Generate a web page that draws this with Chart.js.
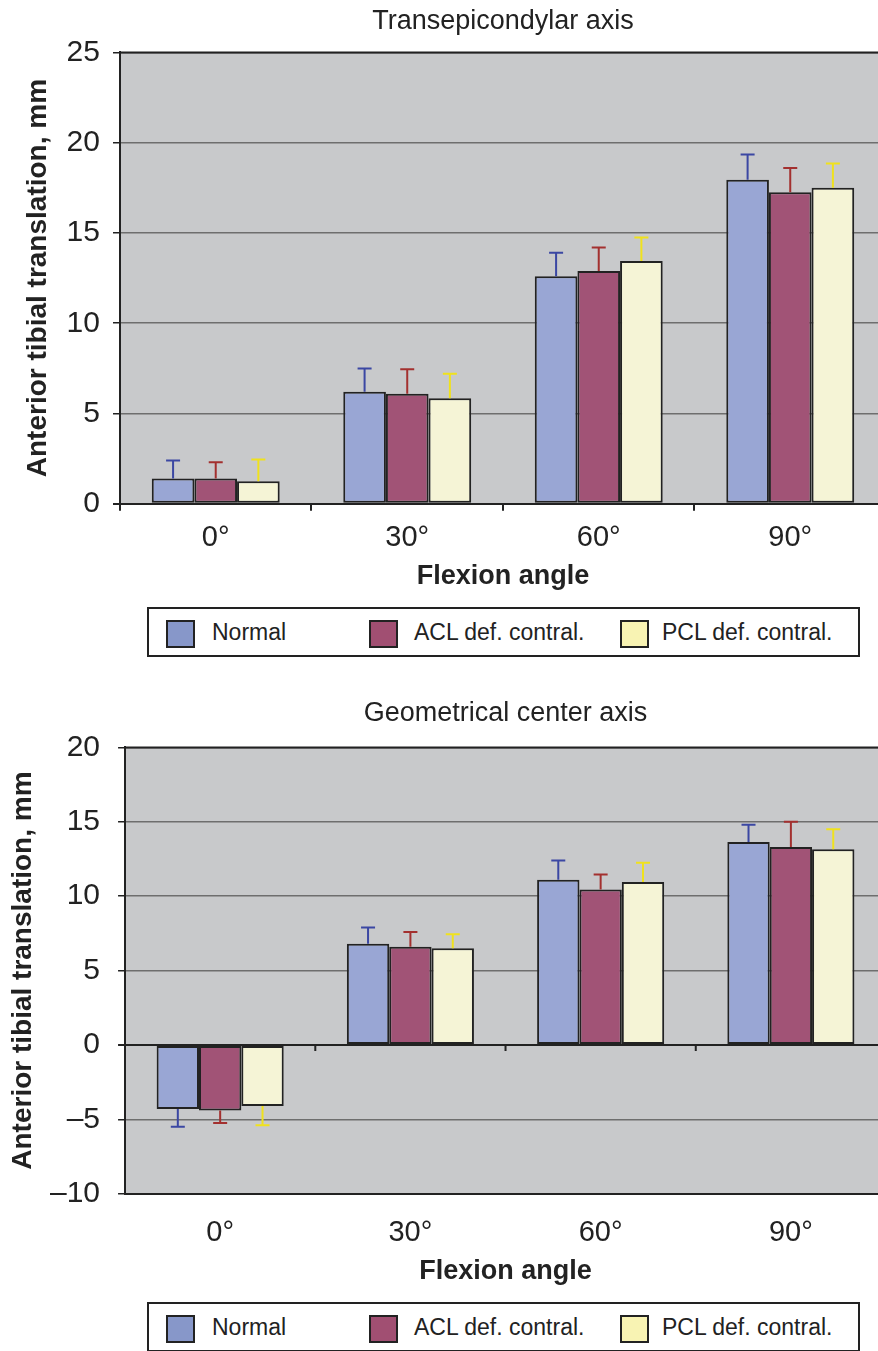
<!DOCTYPE html>
<html>
<head>
<meta charset="utf-8">
<script src="https://cdn.jsdelivr.net/npm/chart.js@4/dist/chart.umd.min.js"></script>
<style>
  body { margin: 0; background: #fff; width: 878px; height: 1351px; overflow: hidden; position: relative;
         font-family: 'Liberation Sans', Arial, sans-serif; }
  .wrap { position: absolute; left: 0; width: 890px; }
  .legend { position: absolute; left: 147px; width: 709px; height: 46px; border: 2px solid #222; background: #fff; }
  .legend .sw { position: absolute; top: 11px; width: 25px; height: 24px; border: 2px solid #222; }
  .legend .lb { position: absolute; top: 0; line-height: 46px; font-size: 23px; color: #222; white-space: nowrap; }
</style>
</head>
<body>
<div class="wrap" style="top:0;height:597px"><canvas id="transChart" width="890" height="597"></canvas></div>
<div class="legend" id="transLegend" style="top:607px"></div>
<div class="wrap" style="top:680px;height:612px"><canvas id="geoChart" width="890" height="612"></canvas></div>
<div class="legend" id="geoLegend" style="top:1302px"></div>
<script>
const categories = ['0°', '30°', '60°', '90°'];
const seriesNames = ['Normal', 'ACL def. contral.', 'PCL def. contral.'];

// Transepicondylar axis, mean and SD (mm)
const transNormal = [1.4, 6.2, 12.6, 17.95];
const transAcl = [1.4, 6.1, 12.9, 17.25];
const transPcl = [1.25, 5.85, 13.45, 17.5];
const transNormalSd = [1.0, 1.3, 1.3, 1.4];
const transAclSd = [0.9, 1.35, 1.3, 1.35];
const transPclSd = [1.2, 1.35, 1.3, 1.35];
const transTicks = [0, 5, 10, 15, 20, 25];

// Geometrical center axis, mean and SD (mm)
const geoNormal = [-4.3, 6.8, 11.1, 13.65];
const geoAcl = [-4.4, 6.6, 10.45, 13.3];
const geoPcl = [-4.1, 6.5, 10.95, 13.15];
const geoNormalSd = [1.2, 1.1, 1.3, 1.15];
const geoAclSd = [0.85, 1.0, 1.0, 1.7];
const geoPclSd = [1.3, 0.95, 1.3, 1.35];
const geoTicks = [-10, -5, 0, 5, 10, 15, 20];

const fills = ['#99a6d4', '#a15376', '#f5f4d6'];
const legendFills = ['#8797c9', '#a14f72', '#f8f3b3'];
const errColors = ['#3b47a3', '#a3302f', '#f0e21c'];
const ink = '#222';

Chart.defaults.font.family = "'Liberation Sans', Arial, sans-serif";
Chart.defaults.color = ink;

// grey plot background + dark top edge, optional ticks on the zero line
const plotFrame = {
  id: 'plotFrame',
  beforeDraw(chart) {
    const a = chart.chartArea, ctx = chart.ctx;
    ctx.save();
    ctx.fillStyle = '#c8c9cb';
    ctx.fillRect(a.left, a.top, a.right - a.left, a.bottom - a.top);
    ctx.restore();
  },
  afterDraw(chart, args, opts) {
    const a = chart.chartArea, ctx = chart.ctx;
    ctx.save();
    ctx.strokeStyle = ink;
    ctx.lineWidth = 2;
    ctx.beginPath();
    ctx.moveTo(a.left, a.top);
    ctx.lineTo(a.right, a.top);
    if (opts.zeroTicks) {
      const x = chart.scales.x, y0 = chart.scales.y.getPixelForValue(0);
      for (let i = 0; i < categories.length; i++) {
        const bx = (x.getPixelForValue(i) + x.getPixelForValue(i + 1)) / 2;
        ctx.moveTo(bx, y0);
        ctx.lineTo(bx, y0 + 6);
      }
    }
    ctx.stroke();
    ctx.restore();
  }
};

// one-sided SD whiskers, pointing away from zero
const errorBars = {
  id: 'errorBars',
  afterDatasetsDraw(chart) {
    const ctx = chart.ctx, y = chart.scales.y;
    chart.data.datasets.forEach((ds, i) => {
      chart.getDatasetMeta(i).data.forEach((bar, j) => {
        const v = ds.data[j], sd = ds.sd[j];
        const end = y.getPixelForValue(v >= 0 ? v + sd : v - sd);
        ctx.save();
        ctx.strokeStyle = ds.errorColor;
        ctx.lineWidth = 2;
        ctx.beginPath();
        ctx.moveTo(bar.x, bar.y);
        ctx.lineTo(bar.x, end);
        ctx.moveTo(bar.x - 7, end);
        ctx.lineTo(bar.x + 7, end);
        ctx.stroke();
        ctx.restore();
      });
    });
  }
};

function dataset(i, values, sd) {
  return {
    label: seriesNames[i],
    data: values,
    sd: sd,
    backgroundColor: fills[i],
    borderColor: ink,
    borderWidth: 2,
    borderSkipped: false,
    errorColor: errColors[i],
    categoryPercentage: 0.668,
    barPercentage: 1.0
  };
}

function makeChart(id, title, series, ticks, cfg) {
  return new Chart(document.getElementById(id), {
    type: 'bar',
    data: { labels: categories, datasets: series },
    options: {
      responsive: false,
      animation: false,
      layout: { padding: { right: 4 } },
      plugins: {
        legend: { display: false },
        tooltip: { enabled: false },
        title: {
          display: true,
          text: title,
          fullSize: false,
          color: ink,
          font: { size: 27, weight: 'normal' },
          padding: cfg.titlePad
        },
        plotFrame: { zeroTicks: cfg.zeroTicks }
      },
      scales: {
        x: {
          grid: {
            display: true,
            drawOnChartArea: false,
            drawTicks: true,
            tickLength: cfg.xTickLen,
            tickColor: cfg.zeroTicks ? 'rgba(0,0,0,0)' : ink,
            lineWidth: 2,
            offset: true
          },
          border: { color: ink, width: 2 },
          ticks: { font: { size: 29 }, color: ink, padding: cfg.xPad },
          title: {
            display: true,
            text: 'Flexion angle',
            color: ink,
            font: { size: 27, weight: 'bold' },
            padding: cfg.xTitlePad
          }
        },
        y: {
          min: ticks[0],
          max: ticks[ticks.length - 1],
          grid: {
            color: c => (c.tick && c.tick.value === 0 ? ink : '#6e6e6e'),
            lineWidth: c => (c.tick && c.tick.value === 0 ? 2 : 1.5),
            tickLength: 7,
            tickColor: ink
          },
          border: { color: ink, width: 2 },
          ticks: {
            stepSize: 5,
            padding: cfg.yPad,
            color: ink,
            font: { size: 30 },
            callback: v => (v < 0 ? '\u2013' + Math.abs(v) : String(v))
          },
          title: {
            display: true,
            text: 'Anterior tibial translation, mm',
            color: ink,
            font: { size: 28, weight: 'bold' },
            padding: cfg.yTitlePad
          }
        }
      }
    },
    plugins: [plotFrame, errorBars]
  });
}

function buildLegend(elId, chart) {
  const el = document.getElementById(elId);
  const slots = [[17, 63], [220, 265], [471, 513]];
  chart.data.datasets.forEach((ds, i) => {
    const sw = document.createElement('span');
    sw.className = 'sw';
    sw.style.left = slots[i][0] + 'px';
    sw.style.background = legendFills[i];
    const lb = document.createElement('span');
    lb.className = 'lb';
    lb.style.left = slots[i][1] + 'px';
    lb.textContent = ds.label;
    el.appendChild(sw);
    el.appendChild(lb);
  });
}

const transChart = makeChart('transChart', 'Transepicondylar axis', [
  dataset(0, transNormal, transNormalSd),
  dataset(1, transAcl, transAclSd),
  dataset(2, transPcl, transPclSd)
], transTicks, {
  titlePad: { top: 5, bottom: 15 },
  xTickLen: 7,
  xPad: 10,
  xTitlePad: { top: -5, bottom: 4 },
  yPad: 13,
  yTitlePad: { top: 21, bottom: -1 },
  zeroTicks: false
});

const geoChart = makeChart('geoChart', 'Geometrical center axis', [
  dataset(0, geoNormal, geoNormalSd),
  dataset(1, geoAcl, geoAclSd),
  dataset(2, geoPcl, geoPclSd)
], geoTicks, {
  titlePad: { top: 17, bottom: 18 },
  xTickLen: 18,
  xPad: 4,
  xTitlePad: { top: 1, bottom: 4 },
  yPad: 18,
  yTitlePad: { top: 6, bottom: -7.6 },
  zeroTicks: true
});

buildLegend('transLegend', transChart);
buildLegend('geoLegend', geoChart);
</script>
</body>
</html>
